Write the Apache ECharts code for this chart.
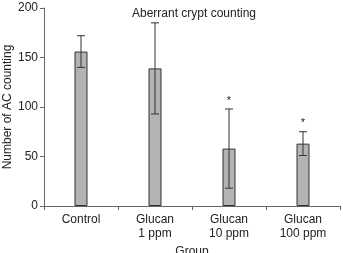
<!DOCTYPE html>
<html>
<head>
<meta charset="utf-8">
<script src="https://cdn.jsdelivr.net/npm/echarts@6/dist/echarts.min.js"></script>
<style>
  html, body { margin: 0; padding: 0; background: #fff; }
  #chart { width: 343px; height: 253px; }
</style>
</head>
<body>
<div id="chart"></div>
<script>
// Aberrant crypt counts per group, mean with SD error bars
const groups = ['Control\n', 'Glucan\n1 ppm', 'Glucan\n10 ppm', 'Glucan\n100 ppm'];
const means = [156, 139, 58, 63];
const sds = [16, 46, 40, 12];
const marks = ['', '', '*', '*'];
const yTicks = [0, 50, 100, 150, 200];

const font = 'Liberation Sans, Arial, sans-serif';
const ink = '#333';

const chart = echarts.init(document.getElementById('chart'));
chart.setOption({
  animation: false,
  textStyle: { fontFamily: font },
  title: {
    text: 'Aberrant crypt counting',
    left: 189, top: 3, textAlign: 'center',
    textStyle: { fontSize: 12, fontWeight: 'normal', color: '#222', fontFamily: font }
  },
  grid: { left: 44, right: 3, top: 8, bottom: 47, outerBoundsMode: 'none', containLabel: false },
  xAxis: {
    type: 'category',
    data: groups,
    name: 'Group',
    nameLocation: 'middle',
    nameGap: 40,
    nameMoveOverlap: false,
    nameTextStyle: { fontSize: 12, color: '#222' },
    axisLine: { lineStyle: { color: '#666' } },
    axisTick: { show: true, alignWithLabel: false, length: 4, lineStyle: { color: '#666' } },
    axisLabel: { fontSize: 12, color: '#222', lineHeight: 14, margin: 7, interval: 0 }
  },
  yAxis: {
    type: 'value',
    min: yTicks[0],
    max: yTicks[yTicks.length - 1],
    interval: 50,
    name: 'Number of AC counting',
    nameLocation: 'middle',
    nameGap: 30,
    nameMoveOverlap: false,
    nameTextStyle: { fontSize: 12, color: '#222' },
    splitLine: { show: false },
    axisLine: { show: true, lineStyle: { color: '#666' } },
    axisTick: { show: true, length: 4, lineStyle: { color: '#666' } },
    axisLabel: { fontSize: 12, color: '#222', margin: 6 }
  },
  series: [
    {
      type: 'bar',
      data: means,
      barWidth: 13,
      itemStyle: { color: '#b3b3b3', borderColor: ink, borderWidth: 1 }
    },
    {
      type: 'custom',
      data: means.map((m, i) => [i, m - sds[i], m + sds[i]]),
      z: 5,
      renderItem: (params, api) => {
        const i = api.value(0);
        const lo = api.coord([i, api.value(1)]);
        const hi = api.coord([i, api.value(2)]);
        const cap = 4;
        const style = { stroke: ink, lineWidth: 1 };
        const children = [
          { type: 'line', shape: { x1: hi[0], y1: hi[1], x2: lo[0], y2: lo[1] }, style },
          { type: 'line', shape: { x1: hi[0] - cap, y1: hi[1], x2: hi[0] + cap, y2: hi[1] }, style },
          { type: 'line', shape: { x1: lo[0] - cap, y1: lo[1], x2: lo[0] + cap, y2: lo[1] }, style }
        ];
        if (marks[i]) {
          children.push({
            type: 'text',
            style: {
              text: marks[i], x: hi[0], y: hi[1] - 3,
              align: 'center', verticalAlign: 'bottom',
              fontSize: 11, fill: '#222', fontFamily: font
            }
          });
        }
        return { type: 'group', children };
      }
    }
  ]
});
</script>
</body>
</html>
